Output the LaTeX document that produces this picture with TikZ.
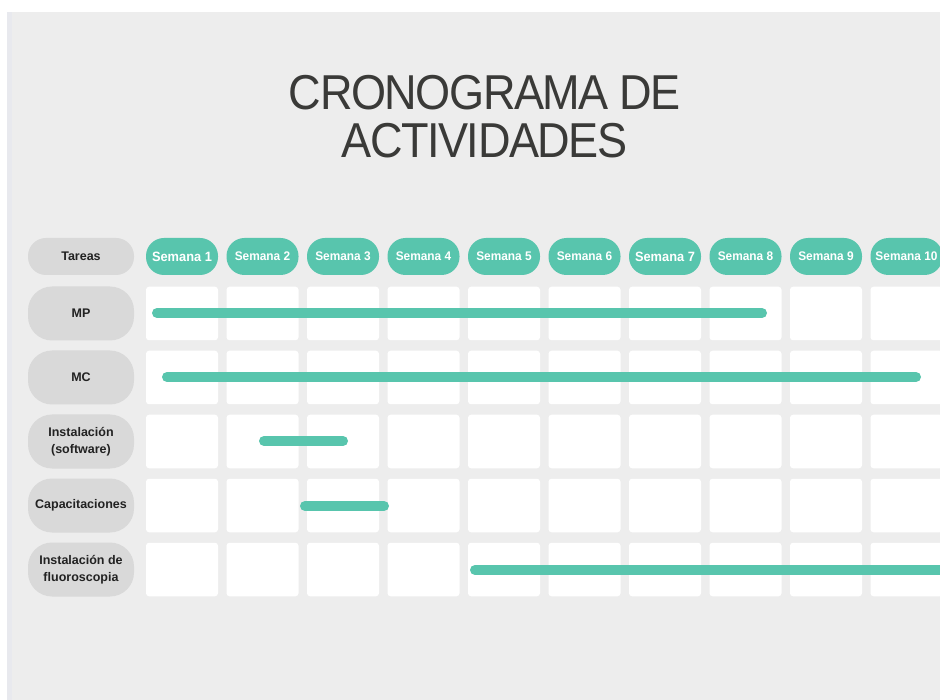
\documentclass[tikz,border=0pt]{standalone}
\usepackage{fontspec}
\setmainfont{Liberation Sans}
\newfontfamily\titlefont[LetterSpace=-3,FakeStretch=0.92]{Liberation Sans}
\newfontfamily\weekfont[FakeStretch=0.95]{Liberation Sans}
\definecolor{bggray}{HTML}{EDEDED}
\definecolor{edgegray}{HTML}{E8E9EE}
\definecolor{pillgray}{HTML}{D9D9D9}
\definecolor{mint}{HTML}{58C5AD}
\definecolor{titlegray}{HTML}{3A3A38}
\definecolor{labelink}{HTML}{222222}
\begin{document}
\begin{tikzpicture}[x=1pt,y=-1pt,
  taskpill/.style={fill=pillgray, rounded corners=24pt, minimum width=106pt, minimum height=54pt, inner sep=0pt, align=center, font=\fontsize{12.5}{17.5}\selectfont\bfseries, text=labelink},
  headpill/.style={taskpill, rounded corners=18pt, minimum height=37pt},
  weekpill/.style={fill=mint, rounded corners=18pt, minimum width=72pt, minimum height=37pt, inner sep=0pt, font=\fontsize{12.5}{14}\selectfont\weekfont\bfseries, text=white},
  bigweek/.style={font=\fontsize{13.5}{15}\selectfont\weekfont\bfseries},
  cellbox/.style={fill=white, rounded corners=3pt, minimum width=72pt, minimum height=53.5pt, inner sep=0pt},
  ganttbar/.style={draw=mint, line width=10pt, line cap=round},
  titletext/.style={font=\fontsize{49}{49}\selectfont\titlefont, text=titlegray, anchor=base, inner sep=0pt}]
\useasboundingbox (0,0) rectangle (940,700);
\fill[white] (0,0) rectangle (940,700);
\fill[bggray] (7,12) rectangle (940,700);
\fill[edgegray] (7,12) rectangle (12,700);

% title
\node[titletext] (t1) at (485,110) {CRONOGRAMA DE};
\node[titletext] (t2) at (484.5,158) {ACTIVIDADES};

% header row
\node[headpill] (tareas) at (81,256.5) {Tareas};
\foreach \i in {1,...,10} {
  \pgfmathsetmacro{\cx}{182+80.5*(\i-1)}
  \ifnum\i=1
    \node[weekpill,bigweek] (w\i) at (\cx,256.5) {Semana \i};
  \else\ifnum\i=7
    \node[weekpill,bigweek] (w\i) at (\cx,256.5) {Semana \i};
  \else
    \node[weekpill] (w\i) at (\cx,256.5) {Semana \i};
  \fi\fi
}

% task labels
\node[taskpill] (r1) at (81,313.5) {MP};
\node[taskpill] (r2) at (81,377.5) {MC};
\node[taskpill] (r3) at (81,441.5) {Instalación\\(software)};
\node[taskpill] (r4) at (81,505.5) {Capacitaciones};
\node[taskpill] (r5) at (81,569.5) {Instalación de\\fluoroscopia};

% cells
\foreach \j in {1,...,5} {
  \foreach \i in {1,...,10} {
    \pgfmathsetmacro{\cx}{182+80.5*(\i-1)}
    \pgfmathsetmacro{\cy}{313.5+64*(\j-1)}
    \node[cellbox] (c\j-\i) at (\cx,\cy) {};
  }
}

% bars
\coordinate (b1s) at (157,313);   \coordinate (b1e) at (762,313);
\coordinate (b2s) at (167,377);   \coordinate (b2e) at (916,377);
\coordinate (b3s) at (264,441);   \coordinate (b3e) at (343,441);
\coordinate (b4s) at (305,506);   \coordinate (b4e) at (384,506);
\coordinate (b5s) at (475,570);   \coordinate (b5e) at (960,570);
\draw[ganttbar] (b1s) -- (b1e);
\draw[ganttbar] (b2s) -- (b2e);
\draw[ganttbar] (b3s) -- (b3e);
\draw[ganttbar] (b4s) -- (b4e);
\draw[ganttbar] (b5s) -- (b5e);
\end{tikzpicture}
\end{document}
